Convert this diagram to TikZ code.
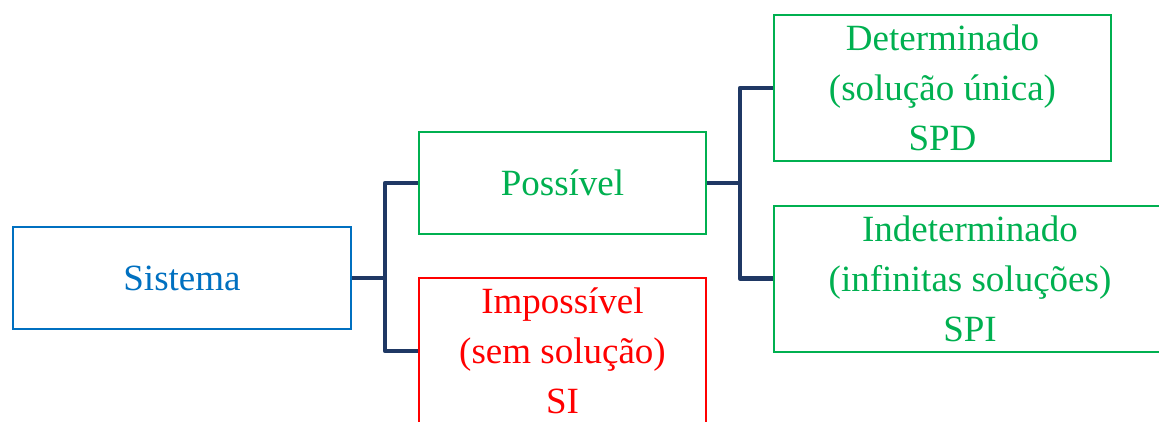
\documentclass[tikz,border=0pt]{standalone}
\usepackage{fontspec}
\setmainfont{Liberation Serif}
\usetikzlibrary{positioning}
\definecolor{azul}{HTML}{0070C0}
\definecolor{verde}{HTML}{00B050}
\definecolor{vermelho}{HTML}{FF0000}
\definecolor{marinho}{HTML}{1F3864}

\begin{document}
\begin{tikzpicture}[x=1pt, y=-1pt,
        % Estilos das caixas
        caixa/.style={
            draw,
            line width=2pt,
            rectangle,
            inner sep=0pt,
            align=center,
            font=\fontsize{37}{50}\selectfont
        },
        caixaA/.style={caixa, draw=azul, text=azul, minimum width=338pt, minimum height=102pt},
        caixaV/.style={caixa, draw=verde, text=verde},
        caixaR/.style={caixa, draw=vermelho, text=vermelho},
        ligacao/.style={draw=marinho, line width=4.5pt, line join=round}
    ]
        \useasboundingbox (0,0) rectangle (1159,421);

        % Nos
        \node[caixaA] (sistema) at (182,278) {Sistema};
        \node[caixaV, minimum width=287pt, minimum height=102pt] (possivel) at (562.5,183) {Possível};
        \node[caixaR, minimum width=287pt, minimum height=146pt] (impossivel) at (562.5,351)
            {Impossível\\(sem solução)\\SI};
        \node[caixaV, minimum width=337pt, minimum height=146pt] (determinado) at (942.5,88)
            {Determinado\\(solução única)\\SPD};
        \node[caixaV, minimum width=392pt, minimum height=146pt] (indeterminado) at (970,278.5)
            {Indeterminado\\(infinitas soluções)\\SPI};

        % Linhas
        \draw[ligacao] (sistema.east) -- ++(33,0) coordinate (j1);
        \draw[ligacao] (j1) |- (possivel.west);
        \draw[ligacao] (j1) |- (impossivel.west);
        \draw[ligacao] (possivel.east) -- ++(33,0) coordinate (j2);
        \draw[ligacao] (j2) |- (determinado.west);
        \draw[ligacao] (j2) |- (indeterminado.west);

    \end{tikzpicture}
\end{document}
